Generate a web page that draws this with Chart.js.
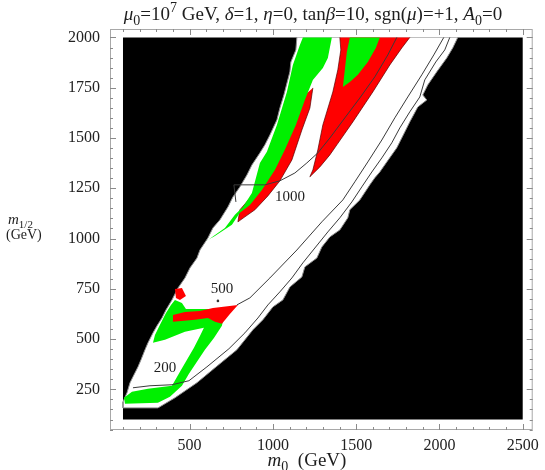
<!DOCTYPE html>
<html>
<head>
<meta charset="utf-8">
<script src="https://cdn.jsdelivr.net/npm/chart.js@4.4.0/dist/chart.umd.min.js"></script>
<style>
  html, body { margin: 0; padding: 0; background: #fff; }
</style>
</head>
<body>
<canvas id="chart" width="545" height="470"></canvas>
<script>
// axis ticks (GeV)
const xTicks = [500, 1000, 1500, 2000, 2500];
const yTicks = [250, 500, 750, 1000, 1250, 1500, 1750, 2000];

// scanned region of the (m0, m1/2) plane
const scanBox = [[100, 100], [2500, 100], [2500, 2000], [100, 2000]];

// allowed (white) band, upper-left edge going down, then lower-right edge going up
const allowedBand = [
  [1144, 2000], [1138, 1938], [1108, 1878], [1102, 1829], [1066, 1714], [1042, 1649], [1024, 1590],
  [982, 1515], [952, 1466], [922, 1426], [874, 1366], [844, 1316], [802, 1257], [760, 1207],
  [730, 1157], [682, 1093], [640, 1053], [610, 1003], [562, 943], [544, 903], [502, 854],
  [472, 804], [430, 754], [394, 695], [358, 645], [334, 605], [304, 566], [280, 531],
  [250, 482], [232, 447], [208, 397], [190, 362], [160, 313], [142, 283], [124, 233], [100, 188],
  [100, 158], [310, 158],
  [412, 208], [544, 283], [652, 357], [784, 447], [880, 546], [940, 596], [1000, 660],
  [1060, 695], [1102, 759], [1174, 809], [1192, 859], [1264, 903], [1294, 958], [1342, 1008],
  [1402, 1043], [1450, 1103], [1462, 1143], [1522, 1192], [1582, 1267], [1612, 1302],
  [1642, 1331], [1684, 1381], [1744, 1451], [1792, 1530], [1822, 1580], [1870, 1654],
  [1924, 1689], [1900, 1714], [1930, 1764], [1984, 1829], [2044, 1898], [2080, 1948], [2110, 2000]
];

// upper green sliver and the red strip along its right side
const greenUpper = [
  [1180, 2000], [1162, 1963], [1120, 1863], [1084, 1729], [1024, 1565], [964, 1431], [922, 1376],
  [874, 1227], [820, 1157], [772, 1118], [712, 1053], [610, 993], [598, 988],
  [652, 1013], [754, 1068], [802, 1128], [862, 1167], [934, 1242], [1012, 1341], [1072, 1441],
  [1138, 1565], [1192, 1689], [1240, 1789], [1300, 1848], [1330, 1898], [1354, 2000]
];
const redUpper = [
  [1240, 1749], [1222, 1649], [1174, 1540], [1114, 1391], [1042, 1287], [970, 1212], [892, 1143],
  [832, 1108], [790, 1083], [802, 1143], [982, 1316], [1132, 1565], [1192, 1714]
];

// red wedge on the right with green inside it
const redWedge = [
  [1402, 2000], [1408, 1938], [1390, 1839], [1360, 1729], [1300, 1565], [1270, 1441], [1240, 1341],
  [1222, 1307], [1282, 1356], [1342, 1416], [1384, 1466], [1480, 1580], [1600, 1729], [1702, 1863],
  [1774, 1948], [1822, 2000]
];
const greenWedge = [
  [1462, 2000], [1444, 1928], [1432, 1839], [1420, 1754], [1462, 1779], [1510, 1814], [1570, 1878],
  [1618, 1948], [1642, 2000]
];

// low-mass corner
const greenLower = [
  [280, 482], [292, 521], [322, 571], [358, 630], [388, 670], [412, 695], [454, 680], [478, 650],
  [640, 650], [706, 615], [694, 566], [646, 506], [592, 447], [544, 387], [496, 328], [454, 268],
  [382, 213], [310, 183], [112, 178], [106, 208], [154, 238], [250, 253], [394, 268], [442, 338],
  [484, 397], [526, 457], [562, 516], [586, 556], [472, 536], [352, 497]
];
const redLower = [
  [400, 620], [472, 635], [562, 640], [640, 655], [790, 670], [742, 625], [694, 576], [652, 586],
  [610, 605], [532, 596], [400, 586]
];
const redSpot = [[412, 749], [454, 754], [478, 714], [442, 695], [418, 705]];

// mass contours
const contour200 = [
  [160, 258], [262, 268], [394, 273], [496, 293], [604, 362], [736, 452], [832, 531], [910, 605],
  [970, 670], [1042, 735], [1114, 804], [1180, 879], [1252, 953], [1330, 1033], [1402, 1103],
  [1474, 1182], [1534, 1257], [1594, 1331], [1654, 1401], [1714, 1476], [1762, 1550], [1822, 1630],
  [1882, 1704], [1912, 1789], [1978, 1878], [2032, 1938], [2062, 2000]
];
const contour500 = [
  [784, 670], [862, 705], [982, 804], [1144, 943], [1294, 1083], [1420, 1192], [1492, 1282],
  [1570, 1381], [1654, 1490], [1732, 1600], [1810, 1704], [1894, 1814], [1966, 1913], [2026, 2000]
];
const contour1000 = [
  [778, 1182], [766, 1267], [952, 1267], [1042, 1287], [1132, 1326], [1204, 1376], [1270, 1426],
  [1342, 1500], [1432, 1600], [1522, 1699], [1612, 1804], [1690, 1913], [1744, 2000]
];
const contourText = ['200', '500', '1000'];
const contourTextAt = [[352, 357], [694, 750], [1102, 1207]];
const labelDot = [[670, 690]];

const SERIF = '"Liberation Serif", "DejaVu Serif", serif';

function poly(pts, color, order, edge) {
  return {
    type: 'line',
    data: pts.map(([x, y]) => ({x, y})),
    fill: 'shape',
    backgroundColor: color,
    borderColor: edge || 'rgba(0,0,0,0)',
    borderWidth: edge ? 1 : 0.01,
    pointRadius: 0,
    tension: 0,
    order: order
  };
}
function curve(pts, order) {
  return {
    type: 'line',
    data: pts.map(([x, y]) => ({x, y})),
    fill: false,
    borderColor: '#3a3a3a',
    borderWidth: 1,
    pointRadius: 0,
    tension: 0,
    order: order
  };
}

// draws text pieces: [text, kind] where kind is '', 'i', 'sub' or 'sup'
function richText(ctx, parts, x, y, size, align) {
  const fontFor = k => (k === 'i' ? 'italic ' : '') +
    Math.round(k === 'sub' || k === 'sup' ? size * 0.72 : size) + 'px ' + SERIF;
  let w = 0;
  parts.forEach(([t, k]) => { ctx.font = fontFor(k); w += ctx.measureText(t).width; });
  let cx = align === 'center' ? x - w / 2 : x;
  parts.forEach(([t, k]) => {
    ctx.font = fontFor(k);
    const dy = k === 'sub' ? size * 0.25 : (k === 'sup' ? -size * 0.4 : 0);
    ctx.fillText(t, cx, y + dy);
    cx += ctx.measureText(t).width;
  });
}

const framePlugin = {
  id: 'frame',
  afterDraw(chart) {
    const {ctx, chartArea: a, scales: {x, y}} = chart;
    ctx.save();
    ctx.strokeStyle = '#a8a8a8';
    ctx.lineWidth = 1;
    ctx.strokeRect(a.left + 0.5, a.top + 0.5, a.right - a.left - 1, a.bottom - a.top - 1);
    ctx.strokeStyle = '#8a8a8a';
    ctx.beginPath();
    for (let v = 100; v <= 2500; v += 100) {
      const px = Math.round(x.getPixelForValue(v)) + 0.5;
      const len = xTicks.includes(v) ? 6 : 3;
      ctx.moveTo(px, a.bottom); ctx.lineTo(px, a.bottom - len);
      ctx.moveTo(px, a.top); ctx.lineTo(px, a.top + len);
    }
    for (let v = 50; v <= 2000; v += 50) {
      const py = Math.round(y.getPixelForValue(v)) + 0.5;
      const len = yTicks.includes(v) ? 6 : 3;
      ctx.moveTo(a.left, py); ctx.lineTo(a.left + len, py);
      ctx.moveTo(a.right, py); ctx.lineTo(a.right - len, py);
    }
    ctx.stroke();

    ctx.fillStyle = '#1e1e1e';
    ctx.textBaseline = 'middle';
    ctx.textAlign = 'center';
    ctx.font = '15px ' + SERIF;
    contourText.forEach((t, i) => {
      const [m0, m12] = contourTextAt[i];
      ctx.fillText(t, x.getPixelForValue(m0), y.getPixelForValue(m12));
    });

    ctx.textBaseline = 'alphabetic';
    ctx.textAlign = 'left';
    richText(ctx, [['μ', 'i'], ['0', 'sub'], ['=10', ''], ['7', 'sup'], [' GeV, ', ''], ['δ', 'i'],
      ['=1, ', ''], ['η', 'i'], ['=0, tan', ''], ['β', 'i'], ['=10, sgn(', ''], ['μ', 'i'],
      [')=+1, ', ''], ['A', 'i'], ['0', 'sub'], ['=0', '']], 313, 20, 19, 'center');
    richText(ctx, [['m', 'i'], ['1/2', 'sub']], 8, 224, 15, 'left');
    richText(ctx, [['(GeV)', '']], 6, 239, 14, 'left');
    richText(ctx, [['m', 'i'], ['0', 'sub'], ['  (GeV)', '']], 307, 466, 19, 'center');
    ctx.restore();
  }
};

new Chart(document.getElementById('chart'), {
  type: 'scatter',
  data: {
    datasets: [
      curve(contour1000, 0),
      curve(contour500, 0),
      curve(contour200, 0),
      {type: 'scatter', data: labelDot.map(([x, y]) => ({x, y})), pointRadius: 1.3,
        backgroundColor: '#333', borderWidth: 0, order: 0},
      poly(greenWedge, '#00f000', 1),
      poly(redWedge, '#ff0000', 2, 'rgba(90,0,0,0.7)'),
      poly(greenUpper, '#00f000', 3),
      poly(redUpper, '#ff0000', 4, 'rgba(90,0,0,0.7)'),
      poly(redLower, '#ff0000', 5),
      poly(redSpot, '#ff0000', 5),
      poly(greenLower, '#00f000', 6),
      poly(allowedBand, '#ffffff', 7, '#8c8c8c'),
      poly(scanBox, '#000000', 8)
    ]
  },
  options: {
    responsive: false,
    animation: false,
    events: [],
    layout: {padding: {top: 29, right: 12, left: 0, bottom: 0}},
    plugins: {legend: {display: false}, tooltip: {enabled: false}},
    scales: {
      x: {
        type: 'linear', min: 22, max: 2560,
        afterFit: s => { s.height = 40; },
        afterBuildTicks: s => { s.ticks = xTicks.map(v => ({value: v})); },
        grid: {display: false, drawTicks: false},
        border: {display: false},
        ticks: {font: {family: SERIF, size: 16}, color: '#222', padding: 6, maxRotation: 0,
          callback: v => String(v)}
      },
      y: {
        type: 'linear', min: 48, max: 2042,
        afterFit: s => { s.width = 110; },
        afterBuildTicks: s => { s.ticks = yTicks.map(v => ({value: v})); },
        grid: {display: false, drawTicks: false},
        border: {display: false},
        ticks: {font: {family: SERIF, size: 16}, color: '#222', padding: 10,
          callback: v => String(v)}
      }
    }
  },
  plugins: [framePlugin]
});
</script>
</body>
</html>
